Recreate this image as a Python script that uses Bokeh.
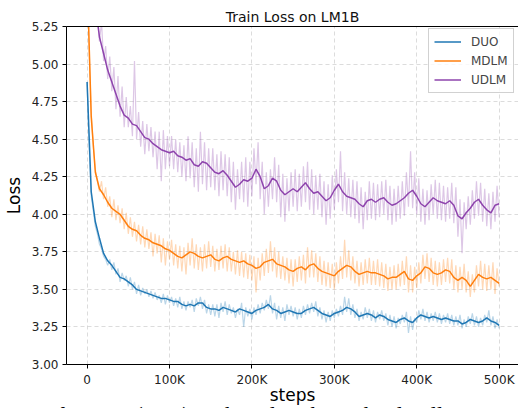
import numpy as np
from bokeh.plotting import figure
from bokeh.layouts import column
from bokeh.models import (Range1d, FixedTicker, PrintfTickFormatter, Legend,
                          LegendItem, LinearAxis, Div)
from bokeh.embed import file_html
from bokeh.resources import INLINE

# ---------------- data ----------------
series_names = ["DUO", "MDLM", "UDLM"]
smooth_steps = np.arange(0, 500001, 5000)      # 101 logging points (smoothed curves)
raw_steps = np.arange(0, 500001, 2500)         # 201 logging points (raw curves)

x_tick_values = [0, 100000, 200000, 300000, 400000, 500000]
x_tick_labels = ["0", "100K", "200K", "300K", "400K", "500K"]
y_tick_values = [3.00, 3.25, 3.50, 3.75, 4.00, 4.25, 4.50, 4.75, 5.00, 5.25]

duo_smooth = [
    4.88, 4.15, 3.95, 3.84, 3.74, 3.69, 3.66, 3.62, 3.58, 3.57,
    3.55, 3.53, 3.50, 3.49, 3.48, 3.47, 3.46, 3.45, 3.44, 3.44,
    3.43, 3.42, 3.42, 3.40, 3.39, 3.40, 3.39, 3.41, 3.41, 3.38,
    3.37, 3.37, 3.36, 3.38, 3.37, 3.36, 3.35, 3.37, 3.36, 3.35,
    3.34, 3.36, 3.37, 3.38, 3.40, 3.37, 3.36, 3.34, 3.35, 3.36,
    3.35, 3.34, 3.34, 3.36, 3.37, 3.38, 3.36, 3.34, 3.33, 3.32,
    3.34, 3.35, 3.36, 3.38, 3.37, 3.35, 3.32, 3.33, 3.34, 3.33,
    3.31, 3.33, 3.32, 3.30, 3.29, 3.28, 3.30, 3.31, 3.29, 3.28,
    3.31, 3.33, 3.32, 3.31, 3.32, 3.31, 3.30, 3.31, 3.30, 3.29,
    3.29, 3.27, 3.28, 3.30, 3.29, 3.28, 3.29, 3.31, 3.29, 3.28,
    3.26,
]
mdlm_smooth = [
    5.60, 4.65, 4.28, 4.17, 4.13, 4.08, 4.04, 4.02, 4.00, 3.96,
    3.92, 3.90, 3.89, 3.86, 3.84, 3.83, 3.81, 3.80, 3.79, 3.77,
    3.76, 3.74, 3.72, 3.71, 3.73, 3.75, 3.74, 3.72, 3.71, 3.72,
    3.73, 3.70, 3.69, 3.71, 3.72, 3.70, 3.69, 3.68, 3.69, 3.67,
    3.66, 3.64, 3.65, 3.68, 3.69, 3.70, 3.67, 3.66, 3.65, 3.63,
    3.62, 3.64, 3.65, 3.63, 3.66, 3.67, 3.64, 3.62, 3.61, 3.60,
    3.59, 3.62, 3.64, 3.66, 3.65, 3.62, 3.60, 3.61, 3.62, 3.61,
    3.61, 3.60, 3.59, 3.57, 3.58, 3.58, 3.60, 3.62, 3.57, 3.56,
    3.59, 3.61, 3.65, 3.64, 3.61, 3.60, 3.61, 3.63, 3.62, 3.58,
    3.56, 3.58, 3.56, 3.52, 3.56, 3.60, 3.58, 3.57, 3.58, 3.56,
    3.54,
]
udlm_smooth = [
    6.00, 5.70, 5.40, 5.18, 5.07, 4.96, 4.88, 4.80, 4.72, 4.66,
    4.64, 4.60, 4.59, 4.55, 4.51, 4.50, 4.47, 4.45, 4.43, 4.42,
    4.41, 4.42, 4.39, 4.38, 4.36, 4.37, 4.33, 4.32, 4.35, 4.34,
    4.31, 4.28, 4.27, 4.29, 4.26, 4.22, 4.18, 4.20, 4.23, 4.22,
    4.24, 4.30, 4.25, 4.17, 4.19, 4.24, 4.22, 4.16, 4.13, 4.15,
    4.17, 4.15, 4.18, 4.21, 4.17, 4.14, 4.15, 4.12, 4.09, 4.11,
    4.16, 4.20, 4.15, 4.12, 4.11, 4.10, 4.07, 4.05, 4.09, 4.10,
    4.08, 4.10, 4.11, 4.08, 4.06, 4.07, 4.09, 4.11, 4.14, 4.16,
    4.12, 4.07, 4.05, 4.08, 4.11, 4.09, 4.08, 4.07, 4.09, 4.06,
    3.99, 3.97, 4.01, 4.04, 4.08, 4.10, 4.06, 4.03, 4.01, 4.06,
    4.07,
]

duo_raw = [
    4.88, 4.45, 4.12, 4.02, 3.92, 3.87, 3.80, 3.77, 3.72, 3.70,
    3.66, 3.70, 3.63, 3.68, 3.60, 3.64, 3.55, 3.61, 3.56, 3.59,
    3.52, 3.58, 3.50, 3.55, 3.47, 3.53, 3.46, 3.51, 3.47, 3.50,
    3.45, 3.49, 3.44, 3.48, 3.43, 3.46, 3.41, 3.47, 3.40, 3.46,
    3.41, 3.45, 3.39, 3.44, 3.38, 3.45, 3.37, 3.42, 3.36, 3.42,
    3.38, 3.43, 3.35, 3.44, 3.39, 3.45, 3.37, 3.43, 3.34, 3.40,
    3.33, 3.40, 3.32, 3.40, 3.31, 3.41, 3.35, 3.42, 3.33, 3.40,
    3.34, 3.38, 3.31, 3.37, 3.33, 3.41, 3.25, 3.38, 3.32, 3.37,
    3.30, 3.38, 3.33, 3.40, 3.34, 3.41, 3.36, 3.43, 3.37, 3.46,
    3.34, 3.41, 3.30, 3.39, 3.31, 3.38, 3.29, 3.40, 3.33, 3.39,
    3.32, 3.38, 3.30, 3.37, 3.31, 3.39, 3.33, 3.40, 3.34, 3.41,
    3.35, 3.42, 3.32, 3.38, 3.30, 3.36, 3.28, 3.35, 3.29, 3.36,
    3.31, 3.37, 3.32, 3.39, 3.33, 3.45, 3.35, 3.44, 3.33, 3.40,
    3.31, 3.37, 3.29, 3.35, 3.30, 3.38, 3.31, 3.37, 3.29, 3.36,
    3.28, 3.35, 3.30, 3.36, 3.29, 3.34, 3.26, 3.33, 3.25, 3.32,
    3.24, 3.31, 3.27, 3.33, 3.28, 3.35, 3.21, 3.32, 3.23, 3.31,
    3.28, 3.36, 3.30, 3.37, 3.29, 3.35, 3.28, 3.34, 3.29, 3.35,
    3.28, 3.34, 3.27, 3.33, 3.28, 3.34, 3.27, 3.33, 3.26, 3.32,
    3.26, 3.33, 3.24, 3.30, 3.25, 3.32, 3.27, 3.34, 3.26, 3.32,
    3.25, 3.31, 3.26, 3.33, 3.28, 3.36, 3.26, 3.32, 3.24, 3.30,
    3.24,
]
mdlm_raw = [
    5.60, 5.10, 4.68, 4.45, 4.30, 4.22, 4.15, 4.22, 4.10, 4.18,
    4.05, 4.12, 3.98, 4.10, 3.96, 4.06, 3.94, 4.04, 3.90, 4.01,
    3.87, 3.98, 3.85, 3.95, 3.82, 3.93, 3.80, 3.92, 3.78, 3.90,
    3.77, 3.88, 3.72, 3.87, 3.74, 3.86, 3.68, 3.84, 3.66, 3.82,
    3.70, 3.83, 3.66, 3.80, 3.64, 3.79, 3.62, 3.78, 3.60, 3.81,
    3.66, 3.84, 3.64, 3.80, 3.63, 3.78, 3.62, 3.80, 3.64, 3.82,
    3.65, 3.79, 3.62, 3.77, 3.63, 3.79, 3.64, 3.80, 3.62, 3.78,
    3.62, 3.75, 3.60, 3.76, 3.59, 3.75, 3.58, 3.74, 3.57, 3.73,
    3.56, 3.72, 3.48, 3.71, 3.56, 3.74, 3.59, 3.77, 3.61, 3.82,
    3.62, 3.78, 3.58, 3.75, 3.57, 3.72, 3.56, 3.71, 3.54, 3.70,
    3.52, 3.70, 3.55, 3.72, 3.56, 3.73, 3.54, 3.78, 3.58, 3.76,
    3.58, 3.74, 3.55, 3.72, 3.53, 3.69, 3.52, 3.68, 3.51, 3.67,
    3.50, 3.68, 3.54, 3.72, 3.57, 3.83, 3.58, 3.76, 3.56, 3.72,
    3.54, 3.69, 3.52, 3.68, 3.53, 3.70, 3.54, 3.71, 3.53, 3.69,
    3.53, 3.70, 3.52, 3.68, 3.51, 3.67, 3.49, 3.65, 3.50, 3.66,
    3.50, 3.67, 3.52, 3.69, 3.53, 3.72, 3.48, 3.66, 3.48, 3.65,
    3.51, 3.68, 3.54, 3.73, 3.57, 3.74, 3.55, 3.71, 3.53, 3.69,
    3.52, 3.68, 3.53, 3.70, 3.55, 3.71, 3.54, 3.70, 3.50, 3.66,
    3.48, 3.65, 3.50, 3.67, 3.48, 3.62, 3.45, 3.60, 3.48, 3.66,
    3.52, 3.69, 3.50, 3.67, 3.49, 3.66, 3.50, 3.68, 3.47, 3.64,
    3.52,
]
udlm_raw = [
    6.00, 5.85, 5.70, 5.55, 5.40, 5.30, 5.15, 5.28, 5.02, 5.12,
    4.90, 5.05, 4.82, 4.98, 4.70, 4.92, 4.65, 4.85, 4.58, 4.78,
    4.58, 4.72, 4.52, 5.02, 4.50, 4.68, 4.45, 4.62, 4.40, 4.60,
    4.42, 4.58, 4.38, 4.55, 4.30, 4.55, 4.22, 4.56, 4.30, 4.52,
    4.32, 4.52, 4.30, 4.50, 4.28, 4.48, 4.25, 4.46, 4.22, 4.52,
    4.24, 4.48, 4.18, 4.44, 4.15, 4.55, 4.20, 4.48, 4.16, 4.44,
    4.18, 4.44, 4.16, 4.40, 4.12, 4.42, 4.16, 4.40, 4.12, 4.38,
    4.08, 4.35, 4.03, 4.30, 4.10, 4.35, 4.08, 4.38, 4.05, 4.35,
    4.12, 4.44, 4.20, 4.48, 4.10, 4.35, 4.00, 4.28, 4.05, 4.30,
    4.10, 4.38, 4.08, 4.33, 3.98, 4.27, 3.95, 4.24, 4.02, 4.28,
    4.05, 4.30, 4.02, 4.27, 4.05, 4.32, 4.08, 4.35, 4.03, 4.30,
    4.00, 4.26, 4.03, 4.27, 3.98, 4.22, 3.93, 4.20, 3.97, 4.26,
    4.03, 4.30, 4.08, 4.42, 4.02, 4.28, 4.00, 4.24, 3.98, 4.23,
    3.97, 4.22, 3.94, 4.18, 3.90, 4.15, 3.96, 4.22, 3.97, 4.21,
    3.96, 4.20, 3.98, 4.22, 4.00, 4.23, 3.96, 4.19, 3.93, 4.17,
    3.95, 4.19, 3.97, 4.22, 3.99, 4.28, 4.05, 4.42, 4.04, 4.28,
    4.00, 4.24, 3.95, 4.17, 3.93, 4.16, 3.96, 4.20, 4.00, 4.23,
    3.97, 4.21, 3.96, 4.19, 3.95, 4.18, 3.97, 4.21, 3.94, 4.18,
    3.85, 4.10, 3.74, 4.08, 3.90, 4.12, 3.93, 4.16, 3.97, 4.22,
    3.99, 4.21, 3.95, 4.17, 3.92, 4.14, 3.90, 4.15, 3.95, 4.19,
    3.98,
]

colors = ["#1f77b4", "#ff7f0e", "#8e44ad"]
title_text = "Train Loss on LM1B"
x_label_text = "steps"
y_label_text = "Loss"
caption_text = "for Duo (ours) with and without the distillation in UDLM"

# ---------------- figure ----------------
p = figure(width=518, height=408, output_backend="svg", toolbar_location=None,
           x_range=Range1d(-25000, 523500), y_range=Range1d(3.0, 5.25),
           min_border_left=66, min_border_right=0, min_border_top=26,
           min_border_bottom=44, background_fill_color="white",
           border_fill_color="white")
p.outline_line_color = None

p.title.text = title_text
p.title.align = "center"
p.title.vertical_align = "middle"
p.title.text_font = "DejaVu Sans"
p.title.text_font_size = "14px"
p.title.text_font_style = "normal"
p.title.text_color = "#111111"
p.title.standoff = 2

raws = [duo_raw, mdlm_raw, udlm_raw]
smooths = [duo_smooth, mdlm_smooth, udlm_smooth]

for raw, col in zip(raws, colors):
    p.line(raw_steps, raw, line_color=col, line_alpha=0.3, line_width=1.2)
smooth_renderers = []
for sm, col in zip(smooths, colors):
    smooth_renderers.append(
        p.line(smooth_steps, sm, line_color=col, line_alpha=1.0, line_width=1.5))

# axes
xax = p.below[0]
yax = p.left[0]
xax.ticker = FixedTicker(ticks=x_tick_values)
xax.major_label_overrides = {v: l for v, l in zip(x_tick_values, x_tick_labels)}
yax.ticker = FixedTicker(ticks=y_tick_values)
yax.formatter = PrintfTickFormatter(format="%.2f")
for ax in (xax, yax):
    ax.axis_line_color = "black"
    ax.axis_line_width = 1
    ax.major_tick_line_color = "black"
    ax.major_tick_out = 4
    ax.major_tick_in = 0
    ax.minor_tick_out = 0
    ax.minor_tick_in = 0
    ax.major_label_text_font = "DejaVu Sans"
    ax.major_label_text_font_size = "12px"
    ax.major_label_text_color = "#222222"
    ax.major_label_standoff = 4
    ax.axis_label_text_font = "DejaVu Sans"
    ax.axis_label_text_font_size = "17px"
    ax.axis_label_text_font_style = "normal"
    ax.axis_label_text_color = "black"
yax.axis_label = y_label_text
yax.axis_label_standoff = 5
xax.axis_label = x_label_text
xax.axis_label_standoff = -5

top = LinearAxis(ticker=FixedTicker(ticks=[]), major_tick_out=0, major_tick_in=0,
                 minor_tick_out=0, minor_tick_in=0, axis_line_color="black",
                 major_label_text_font_size="0px")
p.add_layout(top, "above")

p.xgrid.ticker = FixedTicker(ticks=x_tick_values)
p.ygrid.ticker = FixedTicker(ticks=y_tick_values)
for g in (p.xgrid, p.ygrid):
    g.grid_line_color = "#c8c8c8"
    g.grid_line_dash = "4 3"
    g.grid_line_width = 0.8
    g.grid_line_alpha = 0.8

legend = Legend(
    items=[LegendItem(label=n, renderers=[r]) for n, r in zip(series_names, smooth_renderers)],
    location=(362, 271), label_text_font="DejaVu Sans", label_text_font_size="12px",
    glyph_width=27, glyph_height=15, label_height=15, label_standoff=10,
    spacing=4, padding=5, margin=0, border_line_color="#cccccc",
    border_line_alpha=0.9, background_fill_alpha=0.8)
p.add_layout(legend)

# the cut-off caption line of the source page, overlapping the figure's bottom edge
caption = Div(text=caption_text, width=518, height=9, margin=(-9, 0, 0, 0),
              styles={"overflow": "hidden", "position": "relative", "z-index": "2",
                      "font-family": "Liberation Serif", "font-size": "23px",
                      "line-height": "33px", "white-space": "nowrap",
                      "padding-left": "57px", "color": "black",
                      "background": "transparent"})

layout = column(p, caption, spacing=0)
open("out.html", "w").write(file_html(layout, INLINE))
